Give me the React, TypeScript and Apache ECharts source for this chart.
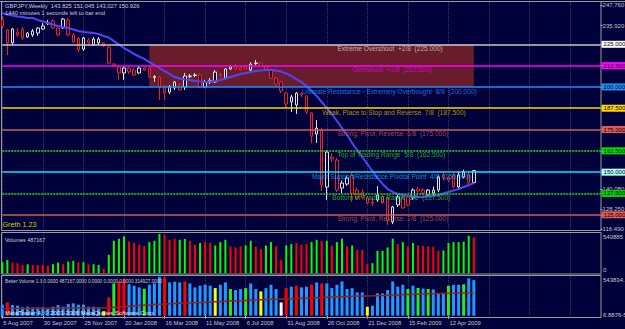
import React, { useEffect, useRef } from 'react';
import * as echarts from 'echarts';

// ---------- data ----------
const opens = [
  239.3, 233.4, 225.8, 232.2, 234.0, 229.3, 230.5, 231.6, 234.0, 237.0,
  238.7, 234.6, 234.6, 239.3, 230.5, 228.7, 222.2, 227.5, 224.6, 225.8,
  225.8, 223.4, 213.4, 211.7, 208.2, 211.1, 209.9, 208.2, 211.1, 211.1,
  205.5, 205.8, 199.9, 197.0, 199.4, 201.1, 199.9, 206.0, 206.7, 207.0,
  199.9, 202.9, 202.9, 207.3, 205.2, 210.5, 212.3, 211.1, 211.7, 209.9,
  213.7, 214.0, 211.7, 209.9, 205.2, 202.9, 196.4, 191.2, 189.4, 195.9,
  194.7, 184.7, 172.4, 174.7, 141.3, 158.8, 157.1, 140.7, 143.0, 148.3,
  139.5, 138.3, 134.9, 132.5, 133.7, 135.5, 134.9, 120.9, 130.8, 135.0,
  135.5, 134.9, 140.1, 139.5, 136.6, 137.7, 139.5, 148.3, 146.6, 148.3,
  141.3, 147.2, 148.3, 143.825,
];
const highs = [
  241.6, 234.0, 234.5, 234.5, 235.1, 232.2, 234.0, 235.1, 237.5, 239.3,
  239.8, 235.1, 240.4, 240.4, 231.6, 229.3, 229.3, 228.7, 229.3, 229.3,
  226.3, 224.0, 214.0, 212.8, 212.3, 212.3, 211.1, 212.3, 212.3, 212.3,
  207.0, 206.4, 201.1, 201.1, 203.5, 202.3, 208.2, 207.6, 208.2, 208.2,
  204.1, 205.2, 209.9, 208.2, 211.1, 212.8, 213.4, 212.3, 212.8, 214.5,
  215.8, 214.5, 212.3, 210.5, 205.8, 203.5, 197.0, 195.3, 197.0, 197.0,
  195.3, 185.3, 180.6, 176.0, 163.0, 161.0, 158.3, 145.0, 148.0, 149.5,
  141.0, 140.1, 136.0, 134.9, 141.9, 137.0, 135.5, 130.2, 137.1, 137.1,
  136.5, 140.5, 141.5, 140.7, 140.1, 141.5, 148.3, 150.5, 148.0, 149.5,
  150.5, 151.5, 150.5, 151.045,
];
const lows = [
  234.5, 218.7, 224.6, 229.3, 227.5, 228.7, 229.3, 229.9, 233.4, 236.3,
  234.0, 229.9, 234.0, 229.9, 225.8, 220.5, 221.1, 224.6, 224.0, 224.6,
  223.4, 213.4, 211.7, 204.1, 204.1, 207.6, 206.4, 207.6, 209.3, 205.2,
  203.0, 192.3, 192.3, 195.8, 198.2, 197.6, 198.2, 205.2, 205.8, 199.4,
  199.4, 201.7, 202.3, 205.2, 204.6, 209.9, 209.9, 209.3, 209.9, 208.8,
  212.8, 211.7, 209.9, 204.6, 200.5, 196.4, 188.2, 185.3, 184.1, 194.1,
  184.1, 167.0, 167.1, 138.9, 133.7, 156.0, 138.3, 137.7, 142.0, 132.5,
  133.7, 134.0, 131.4, 130.2, 132.5, 131.4, 119.0, 119.5, 129.6, 128.4,
  130.0, 133.7, 137.1, 136.6, 135.5, 136.6, 138.3, 145.4, 144.2, 140.7,
  140.7, 146.5, 143.0, 143.027,
];
const closes = [
  235.7, 225.8, 234.0, 230.5, 228.7, 231.6, 232.8, 234.5, 235.7, 237.5,
  234.6, 230.5, 239.8, 230.5, 226.3, 221.7, 228.7, 225.8, 228.1, 228.1,
  224.0, 214.0, 212.3, 208.2, 211.1, 208.8, 207.0, 211.1, 209.9, 205.8,
  206.0, 199.9, 196.4, 199.9, 202.9, 198.2, 206.4, 206.4, 207.0, 199.9,
  202.9, 203.8, 208.7, 206.4, 210.5, 211.7, 210.5, 209.9, 210.5, 213.4,
  214.0, 212.3, 210.5, 205.2, 201.7, 197.6, 190.0, 194.1, 196.4, 195.3,
  185.3, 171.2, 175.9, 142.4, 161.8, 157.7, 139.5, 143.6, 146.5, 137.7,
  134.9, 134.9, 132.0, 132.0, 136.6, 132.0, 121.9, 129.6, 135.5, 129.0,
  130.8, 139.5, 138.9, 137.7, 139.5, 139.5, 147.2, 146.6, 145.4, 141.3,
  148.3, 150.1, 143.8, 150.926,
];
const maValues = [
  243.4, 242.5, 241.9, 241.3, 241.0, 240.4, 240.4, 239.3, 238.4, 237.5,
  236.6, 235.7, 235.1, 234.6, 233.7, 232.8, 232.2, 231.9, 231.6, 231.0,
  229.9, 229.0, 226.9, 224.9, 222.8, 221.1, 219.3, 217.8, 216.4, 214.6,
  212.9, 211.1, 209.3, 207.6, 205.8, 204.9, 204.4, 204.1, 203.5, 203.2,
  202.9, 203.2, 203.5, 204.1, 204.9, 205.8, 206.7, 207.6, 208.2, 208.8,
  209.3, 209.6, 209.9, 209.9, 209.6, 209.0, 207.9, 206.4, 204.6, 202.9,
  200.5, 197.6, 194.7, 191.2, 187.6, 184.1, 180.0, 175.9, 171.8, 167.1,
  163.0, 158.9, 154.8, 150.7, 146.6, 143.1, 140.1, 138.4, 137.2, 136.6,
  136.0, 135.7, 135.4, 135.4, 135.7, 136.0, 136.6, 137.5, 138.4, 139.3,
  140.1, 141.3, 142.5, 143.6,
];
const volumes = [
  151000, 182000, 145000, 137000, 114000, 123000, 114000, 114000, 114000, 100000,
  123000, 145000, 123000, 159000, 169000, 151000, 151000, 123000, 123000, 114000,
  62000, 251000, 442000, 470000, 501000, 433000, 411000, 388000, 370000, 424000,
  442000, 534000, 525000, 456000, 466000, 456000, 466000, 442000, 388000, 411000,
  424000, 411000, 378000, 424000, 456000, 365000, 351000, 365000, 378000, 442000,
  365000, 333000, 378000, 424000, 365000, 182000, 378000, 397000, 411000, 388000,
  397000, 424000, 456000, 442000, 442000, 378000, 424000, 470000, 365000, 378000,
  319000, 319000, 123000, 137000, 305000, 305000, 351000, 470000, 397000, 424000,
  365000, 411000, 380000, 372000, 366000, 360000, 305000, 310000, 411000, 424000,
  424000, 430000, 511000, 487167,
];
// 1 = green (up volume), 0 = red
const volUp = [
  1, 1, 0, 0, 0, 1, 0, 0, 0, 0,
  1, 1, 0, 1, 1, 0, 1, 0, 1, 1,
  0, 1, 1, 1, 1, 0, 0, 0, 0, 1,
  1, 1, 0, 0, 0, 1, 1, 0, 0, 1,
  0, 0, 1, 1, 1, 0, 0, 0, 1, 1,
  0, 0, 1, 1, 0, 0, 1, 1, 0, 0,
  0, 1, 1, 0, 1, 0, 1, 1, 0, 1,
  0, 0, 0, 1, 1, 1, 1, 1, 0, 1,
  0, 1, 0, 0, 0, 0, 0, 1, 1, 1,
  1, 1, 1, 0,
];
// Better Volume class: b neutral, r climax, g churn, y low volume, w climax low
const bvClass = [
  'b', 'r', 'b', 'b', 'b', 'b', 'b', 'b', 'b', 'b',
  'b', 'b', 'b', 'b', 'b', 'b', 'b', 'b', 'b', 'b',
  'y', 'r', 'g', 'r', 'r', 'b', 'b', 'b', 'g', 'b',
  'b', 'b', 'r', 'b', 'b', 'b', 'r', 'b', 'b', 'b',
  'b', 'b', 'y', 'b', 'b', 'g', 'b', 'b', 'g', 'b',
  'b', 'y', 'b', 'b', 'b', 'w', 'r', 'b', 'r', 'b',
  'b', 'r', 'b', 'r', 'b', 'b', 'b', 'b', 'b', 'b',
  'b', 'b', 'y', 'b', 'b', 'b', 'b', 'b', 'b', 'b',
  'g', 'b', 'g', 'b', 'g', 'b', 'b', 'b', 'g', 'b',
  'b', 'g', 'b', 'b',
];
const bvAverage = [
  98000, 99000, 99000, 100000, 100000, 100000, 101000, 101000, 101000, 102000,
  102000, 103000, 103000, 104000, 104000, 105000, 105000, 106000, 106000, 107000,
  107000, 110000, 115000, 120000, 126000, 131000, 136000, 140000, 144000, 148000,
  152000, 156000, 160000, 164000, 167000, 170000, 173000, 176000, 179000, 182000,
  185000, 188000, 191000, 194000, 197000, 200000, 203000, 206000, 209000, 212000,
  215000, 218000, 221000, 224000, 226000, 228000, 230000, 232000, 235000, 238000,
  240000, 243000, 246000, 249000, 252000, 255000, 258000, 261000, 264000, 267000,
  269000, 270000, 271000, 272000, 274000, 276000, 279000, 282000, 285000, 288000,
  291000, 293000, 295000, 297000, 299000, 301000, 303000, 305000, 307000, 309000,
  311000, 312000, 313000, 314927,
];
const dateLabels = [
  '5 Aug 2007', '30 Sep 2007', '25 Nov 2007', '20 Jan 2008', '16 Mar 2008', '11 May 2008',
  '6 Jul 2008', '31 Aug 2008', '26 Oct 2008', '21 Dec 2008', '15 Feb 2009', '12 Apr 2009',
];
const priceTicks = [247.76, 235.92, 140.08, 128.25, 116.49];
const levelValues = [225, 212.5, 200, 187.5, 175, 162.5, 150, 137.5, 125];
const levelNames = [
  'Extreme Overshoot  +2/8',
  'Overshoot  +1/8',
  'Ultimate Resistance - Extremely Overbought  8/8',
  'Weak, Place to Stop and Reverse  7/8',
  'Strong, Pivot, Reverse  6/8',
  'Top of Trading Range  5/8',
  'Major Support/Resistance Pivotal Point  4/8',
  'Bottom of Trading Range  3/8',
  'Strong, Pivot, Reverse  2/8',
];
const levelLabelBars = [66, 69, 59, 63, 66, 66, 61, 65, 66];
const boxBars = [29, 93];
const boxPrices = [225, 200];
const volAxisMax = 540885;
const bvAxisMax = 543834.1;
const bvBottomLabel = '6.8876-5';

// ---------- styles ----------
const BG = '#00003a';
const FONT = '"Liberation Sans", Arial, sans-serif';
const levelLine = ['#c8c8c8', '#ff00ff', '#1e90ff', '#ffd700', '#cd5c5c', '#22dd22', '#00e8ff', '#22dd22', '#cd5c5c'];
const levelText = ['#d8d8d8', '#e000e0', '#1e90ff', '#d0bf00', '#cd5c5c', '#32cd32', '#1eb0ff', '#32cd32', '#cd5c5c'];
const levelBox = ['#ffffff', '#ff00ff', '#1e90ff', '#ffd700', '#e05a5a', '#00e000', '#b0ffff', '#00d000', '#e05a5a'];
const levelDotted = [false, false, false, false, false, true, false, true, false];
const bvColors: Record<string, string> = { b: '#1e9bff', r: '#ff0000', g: '#22ee22', y: '#ffff00', w: '#ffffff' };

export default function App() {
  const ref = useRef<HTMLDivElement>(null);
  useEffect(() => {
    const chart = echarts.init(ref.current!, null, { renderer: 'svg' });
    const nSlots = 119;
    const categories = Array.from({ length: nSlots }, (_, i) => String(i));
    const last = opens.length - 1;
    const f3 = (v: number) => v.toFixed(3);
    const gridLine = { show: true, interval: (i: number) => i % 8 === 0, lineStyle: { color: '#3a3a68', type: 'dotted' as const, width: 1 } };
    const isDate = (i: number) => i % 8 === 0 && i / 8 < dateLabels.length;
    const gridW = 118 * 5.07;
    const grids = [
      { left: 2.3, width: gridW, top: 2, height: 228 },
      { left: 2.3, width: gridW, top: 233.5, height: 39.8 },
      { left: 2.3, width: gridW, top: 276, height: 39.7 },
    ].map((g) => ({ ...g, containLabel: false, outerBoundsMode: 'none', show: false }));

    const xAxes = [0, 1, 2].map((gi) => ({
      type: 'category', gridIndex: gi, data: categories, boundaryGap: false,
      axisLine: { show: false },
      axisTick: gi === 2
        ? { show: true, interval: isDate, length: 3, lineStyle: { color: '#c0c0c0' } }
        : { show: false },
      axisLabel: gi === 2
        ? {
            show: true, interval: isDate, align: 'left', color: '#c8c8c8', fontSize: 5.8, fontFamily: FONT,
            margin: 2, padding: [0, 0, 0, 1],
            formatter: (v: string) => dateLabels[Number(v) / 8] ?? '',
          }
        : { show: false },
      offset: gi === 2 ? 2 : 0,
      splitLine: gridLine,
    }));

    const option: any = {
      animation: false,
      backgroundColor: BG,
      textStyle: { fontFamily: FONT },
      grid: grids,
      xAxis: xAxes,
      yAxis: [
        {
          type: 'value', gridIndex: 0, position: 'right', min: 116.08, max: 249.81,
          axisLine: { show: false }, splitLine: { show: false },
          axisTick: { show: true, customValues: [...priceTicks, ...levelValues], length: 2, lineStyle: { color: '#c0c0c0' } },
          axisLabel: { show: true, customValues: priceTicks, formatter: (v: number) => f3(v), color: '#c8c8c8', fontSize: 6, margin: 2, fontFamily: FONT },
        },
        { type: 'value', gridIndex: 1, min: 0, max: volAxisMax, show: false, splitLine: { show: false } },
        { type: 'value', gridIndex: 2, min: 0, max: bvAxisMax, show: false, splitLine: { show: false } },
      ],
      series: [
        {
          type: 'candlestick', xAxisIndex: 0, yAxisIndex: 0, barWidth: 3, clip: false,
          data: opens.map((o, i) => [o, closes[i], lows[i], highs[i]]),
          itemStyle: { color: BG, color0: BG, borderColor: '#e2e2e2', borderColor0: '#ee2020', borderWidth: 1 },
          markArea: {
            silent: true,
            itemStyle: { color: '#6a1c2c' },
            data: [[{ xAxis: String(boxBars[0]), yAxis: boxPrices[0] }, { xAxis: String(boxBars[1]), yAxis: boxPrices[1] }]],
          },
          markLine: {
            silent: true, symbol: 'none', animation: false,
            data: levelValues.map((v, k) => ({
              yAxis: v,
              lineStyle: { color: levelLine[k], width: 1.5, type: levelDotted[k] ? [2, 1] : 'solid' },
              label: {
                show: true, position: 'end', distance: 1, formatter: f3(v), color: '#000', fontSize: 6,
                fontFamily: FONT, backgroundColor: levelBox[k], padding: [1, 2, 0, 2],
              },
            })),
          },
        },
        {
          type: 'line', xAxisIndex: 0, yAxisIndex: 0, data: maValues, symbol: 'none', z: 3,
          lineStyle: { color: '#5046f6', width: 2 },
        },
        {
          type: 'scatter', xAxisIndex: 0, yAxisIndex: 0, symbolSize: 1, silent: true, z: 6,
          itemStyle: { color: 'rgba(0,0,0,0)' },
          data: levelValues.map((v, k) => ({
            value: [String(levelLabelBars[k]), v],
            label: {
              show: true, formatter: `${levelNames[k]}  (${f3(v)})`, color: levelText[k],
              position: [1, 4.6], align: 'left', verticalAlign: 'middle', fontSize: 6.6, fontFamily: FONT,
            },
          })),
        },
        {
          type: 'bar', xAxisIndex: 1, yAxisIndex: 1, barWidth: 2, clip: false,
          data: volumes.map((v, i) => ({ value: v, itemStyle: { color: volUp[i] ? '#00ff00' : '#ff0000' } })),
        },
        {
          type: 'bar', xAxisIndex: 2, yAxisIndex: 2, barWidth: 3, clip: false,
          data: volumes.map((v, i) => ({ value: v, itemStyle: { color: bvColors[bvClass[i]] } })),
        },
        {
          type: 'line', xAxisIndex: 2, yAxisIndex: 2, data: bvAverage, symbol: 'none', z: 4,
          lineStyle: { color: '#a01c1c', width: 1.5 },
        },
      ],
      graphic: [
        { type: 'rect', shape: { x: 1.5, y: 1.5, width: 599.5, height: 229 }, style: { fill: 'none', stroke: '#9c9c9c', lineWidth: 1 }, z: 1 },
        { type: 'line', shape: { x1: 0, y1: 1.5, x2: 625, y2: 1.5 }, style: { stroke: '#9c9c9c', lineWidth: 1 }, z: 1 },
        { type: 'rect', shape: { x: 1.5, y: 232.5, width: 599.5, height: 41.5 }, style: { fill: 'none', stroke: '#9c9c9c', lineWidth: 1 }, z: 1 },
        { type: 'rect', shape: { x: 1.5, y: 275.5, width: 599.5, height: 42 }, style: { fill: 'none', stroke: '#9c9c9c', lineWidth: 1 }, z: 1 },
        {
          type: 'text', x: 5, y: 6, z: 20,
          style: { text: `GBPJPY,Weekly  ${f3(opens[last])} ${f3(highs[last])} ${f3(lows[last])} ${f3(closes[last])}`, fill: '#d0d0d0', fontSize: 5.8, fontFamily: FONT, verticalAlign: 'middle' },
        },
        { type: 'text', x: 5, y: 13.3, z: 20, style: { text: '1440 minutes 1 seconds left to bar end', fill: '#d0d0d0', fontSize: 5.8, fontFamily: FONT, verticalAlign: 'middle' } },
        { type: 'text', x: 2.5, y: 224.5, z: 20, style: { text: 'Greth 1.23', fill: '#d2d200', fontSize: 7.2, fontFamily: FONT, verticalAlign: 'middle' } },
        { type: 'text', x: 5, y: 240, z: 20, style: { text: `Volumes ${volumes[last]}`, fill: '#d0d0d0', fontSize: 5.4, fontFamily: FONT, verticalAlign: 'middle' } },
        {
          type: 'text', x: 5, y: 281.7, z: 20,
          style: { text: `Better Volume 1.3 0.0000 ${volumes[last].toFixed(4)} 0.0000 0.0000 0.0000 ${bvAverage[last].toFixed(4)}`, fill: '#d0d0d0', fontSize: 4.7, fontFamily: FONT, verticalAlign: 'middle' },
        },
        { type: 'text', x: 5, y: 313, z: 20, style: { text: 'MetaTrader 4, © 2001-2008 MetaQuotes Software Corp.', fill: '#e8e8e8', fontSize: 6, fontFamily: FONT, verticalAlign: 'middle' } },
        { type: 'text', x: 603, y: 237.3, z: 20, style: { text: String(volAxisMax), fill: '#c8c8c8', fontSize: 6, fontFamily: FONT, verticalAlign: 'middle' } },
        { type: 'text', x: 603, y: 269.7, z: 20, style: { text: '0', fill: '#c8c8c8', fontSize: 6, fontFamily: FONT, verticalAlign: 'middle' } },
        { type: 'text', x: 603, y: 280.3, z: 20, style: { text: String(bvAxisMax), fill: '#c8c8c8', fontSize: 6, fontFamily: FONT, verticalAlign: 'middle' } },
        { type: 'text', x: 603, y: 315, z: 20, style: { text: bvBottomLabel, fill: '#c8c8c8', fontSize: 6, fontFamily: FONT, verticalAlign: 'middle' } },
      ],
    };
    chart.setOption(option);
    return () => chart.dispose();
  }, []);
  return (
    <div
      ref={ref}
      style={{ position: 'fixed', left: 0, top: 0, width: 625, height: 329, background: BG, overflow: 'hidden' }}
    />
  );
}
